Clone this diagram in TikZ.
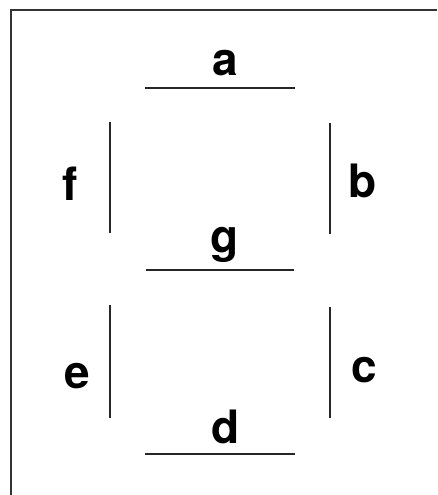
\documentclass[tikz,border=0pt]{standalone}
\usepackage{fontspec}
\setmainfont{TeX Gyre Heros}
\usetikzlibrary{positioning}

\begin{document}
\begin{tikzpicture}[
x=1pt, y=-1pt,
seglabel/.style={
  anchor=base,
  inner sep=0pt,
  font=\fontsize{46}{50}\selectfont\bfseries
},
segline/.style={
  line width=2.2pt,
  black!85
}
]
\useasboundingbox (0,0) rectangle (437,495);

% frame
\draw[line width=2pt, black!80] (11,495) -- (11,10) -- (437,10);

% labels
\node[seglabel] (la) at (225,75) {a};
\node[seglabel] (lb) at (363,197) {b};
\node[seglabel] (lc) at (364,382) {c};
\node[seglabel] (ld) at (226,443) {d};
\node[seglabel] (le) at (77,388) {e};
\node[seglabel] (lf) at (70,200) {f};
\node[seglabel] (lg) at (225,252) {g};

% segments
\draw[segline] (145,88) -- (295,88);
\draw[segline] (330,123) -- (330,234);
\draw[segline] (330,307) -- (330,418);
\draw[segline] (145,454) -- (295,454);
\draw[segline] (110,305) -- (110,418);
\draw[segline] (110,122) -- (110,233);
\draw[segline] (146,270) -- (294,270);
\end{tikzpicture}
\end{document}
